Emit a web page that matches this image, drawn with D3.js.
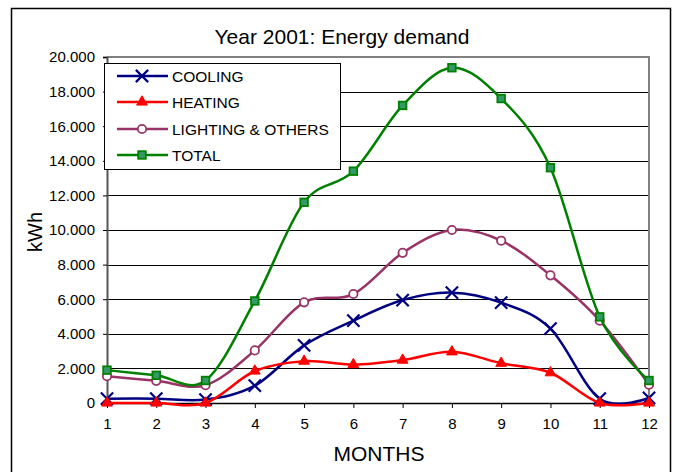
<!DOCTYPE html>
<html>
<head>
<meta charset="utf-8">
<script src="https://cdn.jsdelivr.net/npm/d3@7/dist/d3.min.js"></script>
<style>
  html, body { margin: 0; padding: 0; background: #fff; }
  svg text { font-family: "Liberation Sans", Arial, sans-serif; fill: #000; }
</style>
</head>
<body>
<svg id="chart" width="676" height="472"></svg>
<script>
const months = ["1","2","3","4","5","6","7","8","9","10","11","12"];
const cooling = [250, 250, 200, 1000, 3330, 4760, 5950, 6380, 5800, 4300, 250, 290];
const heating = [0, 0, 0, 1850, 2420, 2220, 2480, 2960, 2300, 1750, 0, 0];
const lighting = [1550, 1280, 1030, 3040, 5820, 6300, 8680, 10000, 9380, 7380, 4760, 1060];
const total = [1900, 1600, 1300, 5900, 11600, 13400, 17200, 19380, 17600, 13600, 4980, 1300];
const seriesNames = ["COOLING", "HEATING", "LIGHTING & OTHERS", "TOTAL"];
const yTicks = [0, 2000, 4000, 6000, 8000, 10000, 12000, 14000, 16000, 18000, 20000];
const yTickLabels = ["0", "2.000", "4.000", "6.000", "8.000", "10.000", "12.000", "14.000", "16.000", "18.000", "20.000"];

const svg = d3.select("#chart");
const L = 107, R = 649, T = 57, B = 403;

// outer frame
svg.append("rect").attr("x", 11.5).attr("y", 8.5).attr("width", 659).attr("height", 480)
  .attr("fill", "none").attr("stroke", "#000").attr("stroke-width", 1.5);

const x = d3.scalePoint().domain(months).range([L, R]);
const y = d3.scaleLinear().domain([0, 20000]).range([B, T]);

// gridlines
svg.append("g").selectAll("line").data(yTicks.filter(v => v > 0 && v < 20000)).join("line")
  .attr("x1", L).attr("x2", R).attr("y1", d => Math.round(y(d)) + 0.5).attr("y2", d => Math.round(y(d)) + 0.5)
  .attr("stroke", "#000").attr("stroke-width", 1);

// plot border (top/right gray)
svg.append("path").attr("d", `M${L},${T} H${R} V${B}`).attr("fill", "none")
  .attr("stroke", "#808080").attr("stroke-width", 2);

// y axis
const yAxis = d3.axisLeft(y).tickValues(yTicks).tickSize(4).tickPadding(8)
  .tickFormat((d, i) => yTickLabels[i]);
const gy = svg.append("g").attr("transform", `translate(${L},0)`).call(yAxis);
gy.select(".domain").attr("stroke", "#555").attr("stroke-width", 2);
gy.selectAll(".tick line").attr("stroke", "#000");
gy.selectAll("text").attr("font-size", 15).attr("font-family", "Liberation Sans, Arial, sans-serif").attr("fill", "#000");

// x axis
const xAxis = d3.axisBottom(x).tickSize(5).tickPadding(10).tickSizeOuter(0);
const gx = svg.append("g").attr("transform", `translate(0,${B})`).call(xAxis);
gx.select(".domain").attr("stroke", "#000").attr("stroke-width", 1.5);
gx.selectAll(".tick line").attr("stroke", "#000");
gx.selectAll("text").attr("font-size", 15).attr("font-family", "Liberation Sans, Arial, sans-serif").attr("fill", "#000");

// titles
svg.append("text").attr("x", 342).attr("y", 44).attr("text-anchor", "middle")
  .attr("font-size", 21).text("Year 2001: Energy demand");
svg.append("text").attr("x", 379).attr("y", 461).attr("text-anchor", "middle")
  .attr("font-size", 21).text("MONTHS");
svg.append("text").attr("transform", "translate(42,232) rotate(-90)").attr("text-anchor", "middle")
  .attr("font-size", 20).text("kWh");

const series = [
  { name: seriesNames[0], values: cooling, color: "#000080", marker: "x" },
  { name: seriesNames[1], values: heating, color: "#FF0000", marker: "tri" },
  { name: seriesNames[2], values: lighting, color: "#993366", marker: "circle" },
  { name: seriesNames[3], values: total, color: "#008000", marker: "square" }
];

const line = d3.line().x((d, i) => x(months[i])).y(d => y(d)).curve(d3.curveCatmullRom.alpha(0));

function drawMarker(g, kind, color) {
  if (kind === "x") {
    g.append("path").attr("d", d3.symbol(d3.symbolTimes, 100)()).attr("fill", "none")
      .attr("stroke", color).attr("stroke-width", 2.2);
  } else if (kind === "tri") {
    g.append("path").attr("d", d3.symbol(d3.symbolTriangle, 50)()).attr("fill", color)
      .attr("stroke", color).attr("stroke-width", 1);
  } else if (kind === "circle") {
    g.append("circle").attr("r", 4.2).attr("fill", "#fff")
      .attr("stroke", color).attr("stroke-width", 1.8);
  } else {
    g.append("rect").attr("x", -3.8).attr("y", -3.8).attr("width", 7.6).attr("height", 7.6)
      .attr("fill", "#339966").attr("stroke", color).attr("stroke-width", 1.8);
  }
}

series.forEach(s => {
  svg.append("path").attr("d", line(s.values)).attr("fill", "none")
    .attr("stroke", s.color).attr("stroke-width", 2.5);
  s.values.forEach((v, i) => {
    const g = svg.append("g").attr("transform", `translate(${x(months[i])},${y(v)})`);
    drawMarker(g, s.marker, s.color);
  });
});

// legend
const lg = svg.append("g");
lg.append("rect").attr("x", 104.5).attr("y", 63.5).attr("width", 236).attr("height", 106)
  .attr("fill", "#fff").attr("stroke", "#000").attr("stroke-width", 1);
const rowY = [76, 102, 129, 155];
series.forEach((s, i) => {
  const yy = rowY[i];
  lg.append("line").attr("x1", 117).attr("x2", 168).attr("y1", yy).attr("y2", yy)
    .attr("stroke", s.color).attr("stroke-width", 2.5);
  const g = lg.append("g").attr("transform", `translate(142,${yy})`);
  drawMarker(g, s.marker, s.color);
  lg.append("text").attr("x", 172).attr("y", yy).attr("dy", "0.36em")
    .attr("font-size", 15.5).text(s.name);
});
</script>
</body>
</html>
